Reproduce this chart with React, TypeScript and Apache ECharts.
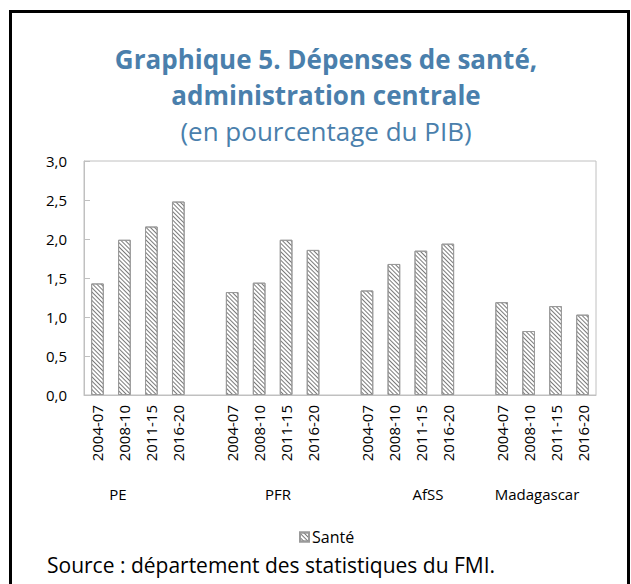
import React, { useEffect, useRef } from "react";
import * as echarts from "echarts";

const groups = ["PE", "PFR", "AfSS", "Madagascar"];
const periods = ["2004-07", "2008-10", "2011-15", "2016-20"];
const valuesPE = [1.43, 1.99, 2.16, 2.48];
const valuesPFR = [1.32, 1.44, 1.99, 1.86];
const valuesAfSS = [1.34, 1.68, 1.85, 1.94];
const valuesMadagascar = [1.19, 0.82, 1.14, 1.03];
const yTicks = [0, 0.5, 1, 1.5, 2, 2.5, 3];

const groupValues = [valuesPE, valuesPFR, valuesAfSS, valuesMadagascar];
const groupLabelX = [118, 278, 428, 537];

const titleLines = ["Graphique 5. Dépenses de santé,", "administration centrale"];
const subtitle = "(en pourcentage du PIB)";

const FONT = "'Open Sans', 'Noto Sans', sans-serif";
const BLUE = "#4a7fac";

export default function App() {
  const ref = useRef<HTMLDivElement>(null);
  useEffect(() => {
    document.body.style.margin = "0";
    const chart = echarts.init(ref.current!, null, { renderer: "svg" });
    const categories: string[] = [];
    const data: (number | string)[] = [];
    groupValues.forEach((vals, gi) => {
      if (gi > 0) {
        categories.push("");
        data.push("-");
      }
      periods.forEach((p, i) => {
        categories.push(p);
        data.push(vals[i]);
      });
    });
    const decal = {
      symbol: "rect",
      symbolSize: 1,
      color: "#7a7a7a",
      backgroundColor: "#ffffff",
      dashArrayX: [[1, 0]],
      dashArrayY: [1, 1.2],
      rotation: Math.PI / 4,
    };
    const titleY = [58.8, 94.6];
    chart.setOption({
      animation: false,
      backgroundColor: "#ffffff",
      textStyle: { fontFamily: FONT },
      legend: {
        data: ["Santé"],
        left: 294,
        top: 524,
        icon: "rect",
        itemWidth: 9,
        itemHeight: 9,
        itemGap: 4,
        textStyle: { fontSize: 16, color: "#000", fontFamily: FONT, padding: [0, 0, 0, -2] },
      },
      grid: {
        left: 84,
        right: 35,
        top: 161,
        bottom: 189,
        show: true,
        borderColor: "#c0c0c0",
        borderWidth: 1,
      },
      xAxis: {
        type: "category",
        data: categories,
        axisLine: { lineStyle: { color: "#c0c0c0" } },
        axisTick: { show: false },
        axisLabel: {
          rotate: 90,
          interval: 0,
          margin: 10,
          fontSize: 15,
          color: "#000",
          fontFamily: FONT,
        },
      },
      yAxis: {
        type: "value",
        min: 0,
        max: yTicks[yTicks.length - 1],
        interval: 0.5,
        splitLine: { show: false },
        axisLine: { show: true, lineStyle: { color: "#c0c0c0" } },
        axisTick: { show: true, inside: true, length: 6, lineStyle: { color: "#c0c0c0" } },
        axisLabel: {
          margin: 17,
          fontSize: 15,
          color: "#000",
          fontFamily: FONT,
          formatter: (v: number) => v.toFixed(1).replace(".", ","),
        },
      },
      series: [
        {
          name: "Santé",
          type: "bar",
          data,
          barWidth: "47%",
          itemStyle: {
            color: "#ffffff",
            borderColor: "#9a9a9a",
            borderWidth: 1,
            decal,
          },
        },
      ],
      graphic: [
        {
          type: "rect",
          shape: { x: 10.5, y: 11.5, width: 618, height: 620 },
          style: { fill: "none", stroke: "#000", lineWidth: 3 },
          silent: true,
        },
        ...titleLines.map((t, i) => ({
          type: "text",
          x: 326,
          y: titleY[i],
          style: {
            text: t,
            fontSize: 26,
            fontWeight: "bold",
            fontFamily: FONT,
            fill: BLUE,
            textAlign: "center",
            textVerticalAlign: "middle",
          },
        })),
        {
          type: "text",
          x: 326,
          y: 131,
          style: {
            text: subtitle,
            fontSize: 26,
            fontFamily: FONT,
            fill: BLUE,
            textAlign: "center",
            textVerticalAlign: "middle",
          },
        },
        ...groups.map((g, i) => ({
          type: "text",
          x: groupLabelX[i],
          y: 494,
          style: {
            text: g,
            fontSize: 15,
            fontFamily: FONT,
            fill: "#000",
            textAlign: "center",
            textVerticalAlign: "middle",
          },
        })),
        {
          type: "text",
          x: 47,
          y: 565,
          style: {
            text: "Source : département des statistiques du FMI.",
            fontSize: 21,
            fontFamily: FONT,
            fill: "#000",
            textAlign: "left",
            textVerticalAlign: "middle",
          },
        },
      ],
    });
    return () => chart.dispose();
  }, []);
  return <div ref={ref} style={{ width: 631, height: 584 }} />;
}
